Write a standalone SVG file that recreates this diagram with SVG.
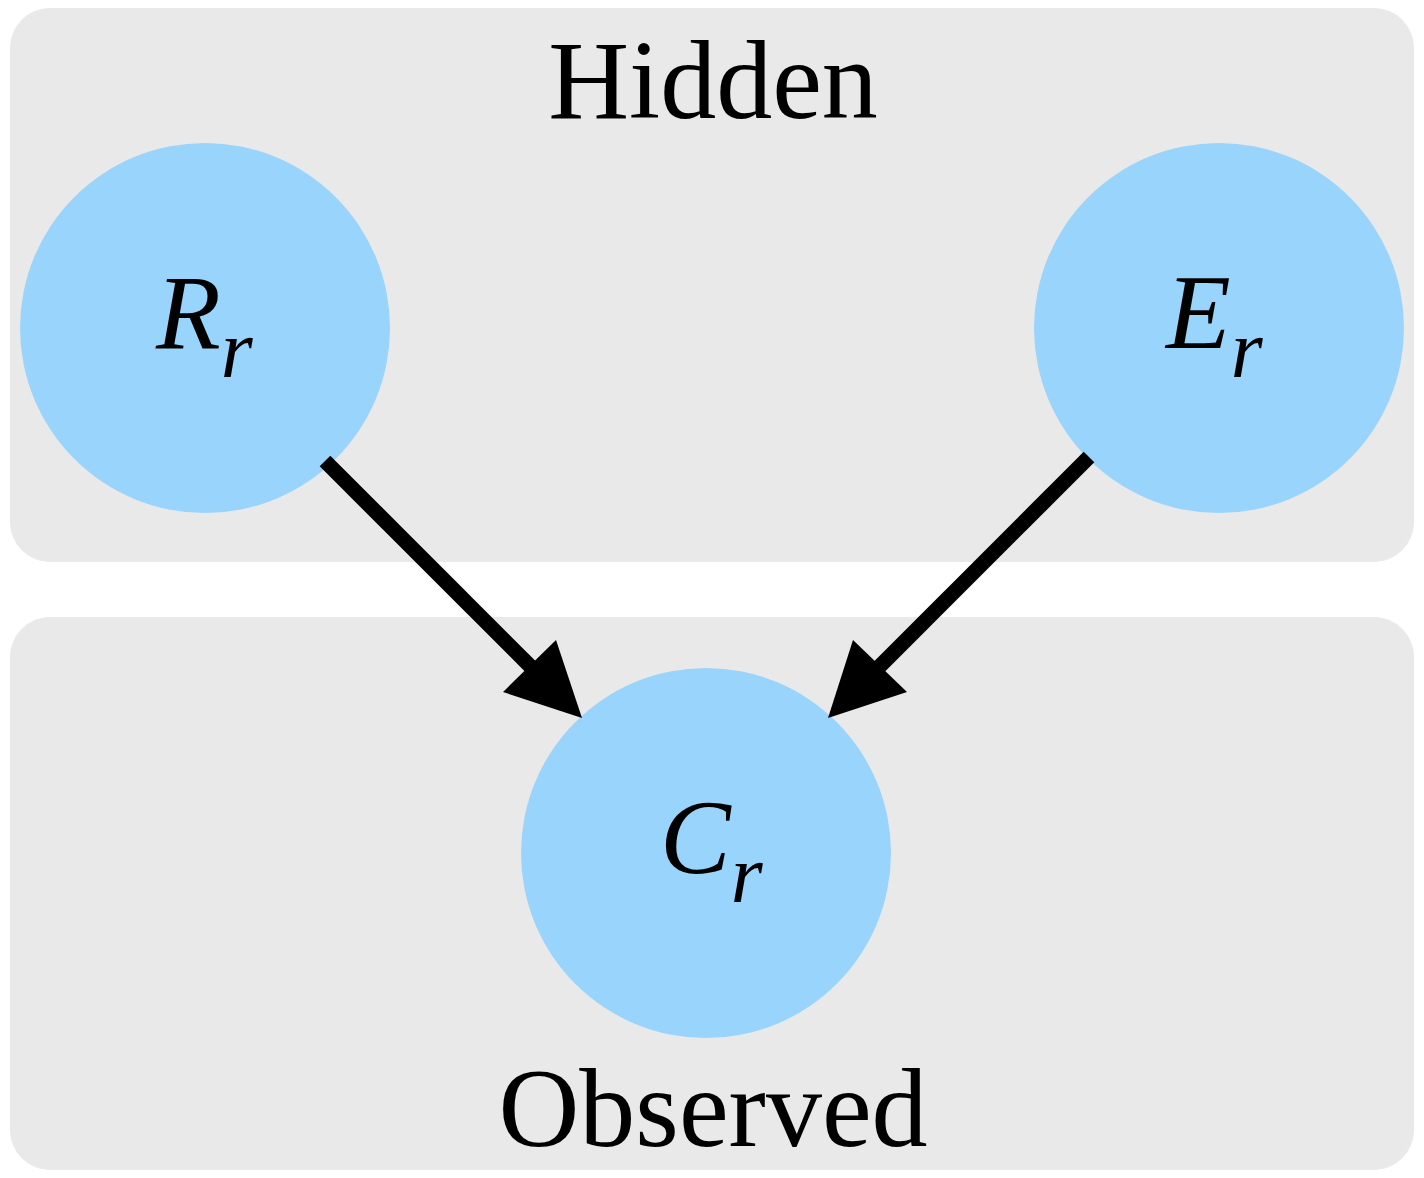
<svg xmlns="http://www.w3.org/2000/svg" width="1424" height="1178" viewBox="0 0 1424 1178">
<style>
.panel{fill:#e9e9e9}
.node{fill:#99d4fc}
.title{font-family:"Liberation Serif",serif;font-size:112px;fill:#000;text-anchor:middle}
.lbl{font-family:"Liberation Serif",serif;font-style:italic;font-size:106px;fill:#000}
.sub{font-size:82px}
.edge{stroke:#000;stroke-width:15;fill:none}
</style>
<rect width="1424" height="1178" fill="#fff"/>
<g id="hidden-panel">
<rect class="panel" x="10" y="8" width="1404" height="554" rx="40"/>
<text class="title" x="713" y="118">Hidden</text>
</g>
<g id="observed-panel">
<rect class="panel" x="10" y="617" width="1404" height="553" rx="40"/>
<text class="title" x="713" y="1146">Observed</text>
</g>
<g id="node-R">
<circle class="node" cx="205" cy="328" r="185"/>
<text class="lbl" x="156" y="348">R<tspan class="sub" dy="29">r</tspan></text>
</g>
<g id="node-E">
<circle class="node" cx="1219" cy="328" r="185"/>
<text class="lbl" x="1166" y="348">E<tspan class="sub" dy="29">r</tspan></text>
</g>
<g id="node-C">
<circle class="node" cx="706" cy="853" r="185"/>
<text class="lbl" x="660" y="873">C<tspan class="sub" dy="29">r</tspan></text>
</g>
<g id="connectors">
<line class="edge" x1="325" y1="461" x2="532" y2="668"/>
<polygon points="582,718 503,692 556,640"/>
<line class="edge" x1="1089" y1="457" x2="878" y2="668"/>
<polygon points="828,718 853,640 907,692"/>
</g>
</svg>
